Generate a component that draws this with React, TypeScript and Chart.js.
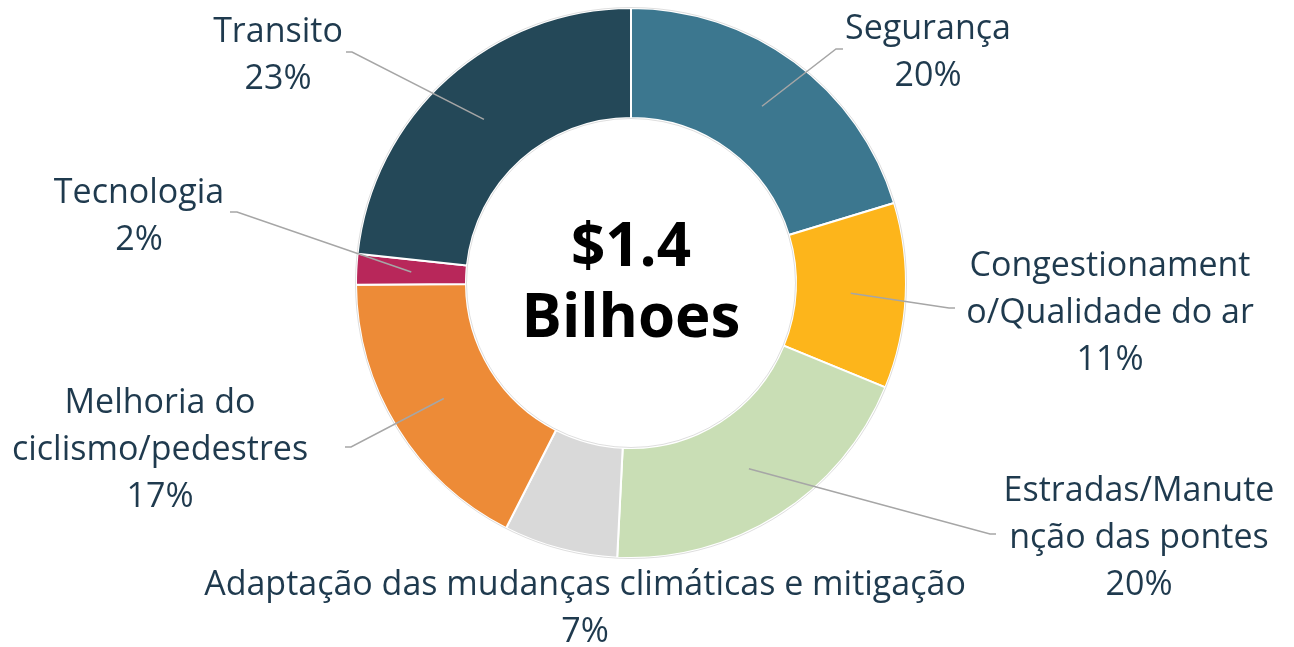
import React, { useEffect, useRef } from 'react';
import { Chart, registerables } from 'chart.js';

Chart.register(...registerables);

const categories = [
  'Segurança',
  'Congestionamento/Qualidade do ar',
  'Estradas/Manutenção das pontes',
  'Adaptação das mudanças climáticas e mitigação',
  'Melhoria do ciclismo/pedestres',
  'Tecnologia',
  'Transito',
];
const labelLines = [
  ['Segurança'],
  ['Congestionament', 'o/Qualidade do ar'],
  ['Estradas/Manute', 'nção das pontes'],
  ['Adaptação das mudanças climáticas e mitigação'],
  ['Melhoria do', 'ciclismo/pedestres'],
  ['Tecnologia'],
  ['Transito'],
];
const shares = [20.3, 10.9, 19.6, 6.7, 17.4, 1.8, 23.3];
const percentLabels = ['20%', '11%', '20%', '7%', '17%', '2%', '23%'];
const colors = ['#3c778f', '#fdb51b', '#c9deb5', '#d9d9d9', '#ed8b37', '#b8275a', '#244858'];
const centerLines = ['$1.4', 'Bilhoes'];

// layout of the outside labels (text anchor, leader-line elbow and tail)
const labelLayout: any[] = [
  { x: 928, y: 39, elbow: [836, 49], tail: 843 },
  { x: 1110, y: 276, elbow: [949, 308], tail: 955 },
  { x: 1139, y: 501, elbow: [990, 534], tail: 996 },
  { x: 585, y: 595, elbow: null, maxWidth: 768 },
  { x: 160, y: 413, elbow: [351, 447], tail: 345 },
  { x: 139, y: 203, elbow: [237, 212], tail: 230 },
  { x: 278, y: 42, elbow: [352, 52], tail: 346 },
];
const LINE_H = 47;
const TEXT_COLOR = '#1f3a4e';
const FONT = '"Open Sans", "Noto Sans", sans-serif';

const labelPlugin = {
  id: 'calloutLabels',
  afterDatasetsDraw(chart: any) {
    const ctx = chart.ctx;
    const meta = chart.getDatasetMeta(0);
    ctx.save();
    const first = meta.data[0];
    if (first) {
      const p = first.getProps(['x', 'y', 'innerRadius', 'outerRadius'], true);
      ctx.strokeStyle = 'rgba(0,0,0,0.13)';
      ctx.lineWidth = 1;
      ctx.beginPath();
      ctx.arc(p.x, p.y, p.outerRadius + 0.5, 0, Math.PI * 2);
      ctx.stroke();
      ctx.beginPath();
      ctx.arc(p.x, p.y, Math.max(p.innerRadius - 0.5, 0), 0, Math.PI * 2);
      ctx.stroke();

      ctx.fillStyle = '#000000';
      ctx.textAlign = 'center';
      ctx.textBaseline = 'alphabetic';
      ctx.font = `bold 60px ${FONT}`;
      ctx.fillText(centerLines[0], p.x, p.y - 17);
      ctx.fillText(centerLines[1], p.x, p.y + 54);
    }

    meta.data.forEach((arc: any, i: number) => {
      const p = arc.getProps(['x', 'y', 'startAngle', 'endAngle', 'innerRadius', 'outerRadius'], true);
      const mid = (p.startAngle + p.endAngle) / 2;
      const r = (p.innerRadius + p.outerRadius) / 2;
      const ax = p.x + Math.cos(mid) * r;
      const ay = p.y + Math.sin(mid) * r;
      const L = labelLayout[i];
      if (L.elbow) {
        ctx.strokeStyle = '#a6a6a6';
        ctx.lineWidth = 1.5;
        ctx.beginPath();
        ctx.moveTo(ax, ay);
        ctx.lineTo(L.elbow[0], L.elbow[1]);
        ctx.lineTo(L.tail, L.elbow[1]);
        ctx.stroke();
      }
      ctx.fillStyle = TEXT_COLOR;
      ctx.textAlign = 'center';
      ctx.textBaseline = 'alphabetic';
      ctx.font = `34px ${FONT}`;
      const lines = [...labelLines[i], percentLabels[i]];
      lines.forEach((t, k) => {
        if (L.maxWidth) ctx.fillText(t, L.x, L.y + k * LINE_H, L.maxWidth);
        else ctx.fillText(t, L.x, L.y + k * LINE_H);
      });
    });
    ctx.restore();
  },
};

export default function App() {
  const canvasRef = useRef<HTMLCanvasElement | null>(null);

  useEffect(() => {
    if (!canvasRef.current) return;
    const chart = new Chart(canvasRef.current, {
      type: 'doughnut',
      data: {
        labels: categories,
        datasets: [
          {
            data: shares,
            backgroundColor: colors,
            borderColor: '#ffffff',
            borderWidth: 2,
          },
        ],
      },
      options: {
        responsive: false,
        animation: false,
        events: [],
        cutout: '60%',
        layout: { padding: { top: 7, bottom: 88, left: 0, right: 32 } },
        plugins: {
          legend: { display: false },
          tooltip: { enabled: false },
        },
      },
      plugins: [labelPlugin],
    });
    return () => chart.destroy();
  }, []);

  return (
    <div style={{ position: 'absolute', left: 0, top: 0, width: 1294, height: 647, background: '#ffffff' }}>
      <canvas ref={canvasRef} width={1294} height={647} style={{ display: 'block' }} />
    </div>
  );
}
